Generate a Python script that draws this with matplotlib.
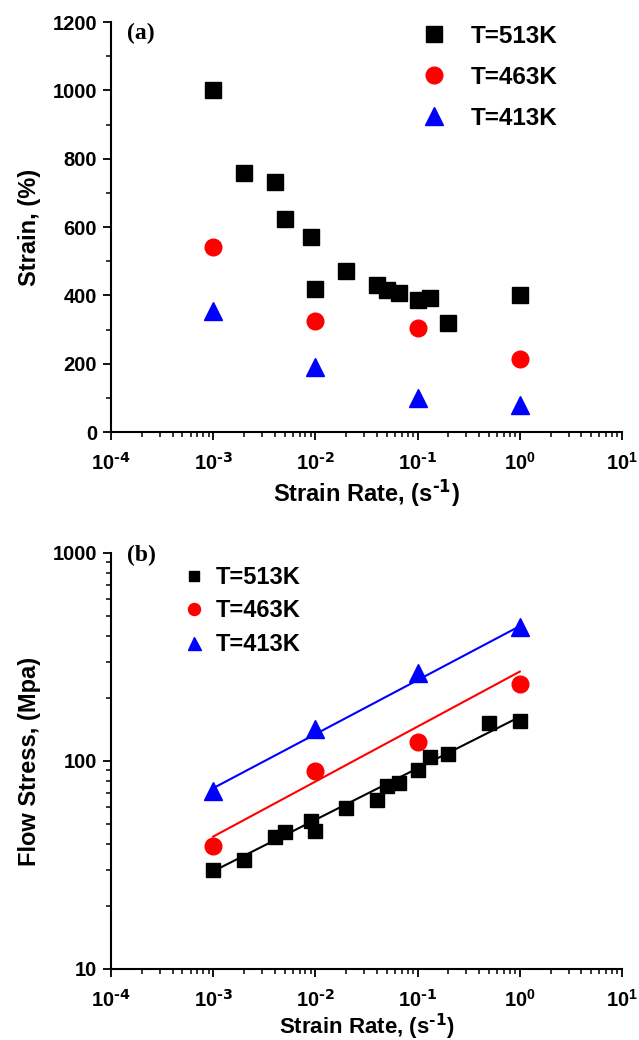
import numpy as np
import matplotlib
matplotlib.use("Agg")
import matplotlib.pyplot as plt
from matplotlib.ticker import MultipleLocator, LogLocator, NullFormatter

plt.rcParams['font.family'] = ['Liberation Sans', 'DejaVu Sans']
plt.rcParams['font.weight'] = 'bold'
plt.rcParams['mathtext.default'] = 'regular'
plt.rcParams['axes.unicode_minus'] = False

# ---- datos panel (a): deformacion vs velocidad ----
rate_513 = [1e-3, 2e-3, 4e-3, 5e-3, 9e-3, 1e-2, 2e-2, 4e-2, 5e-2, 6.6e-2, 1e-1, 1.32e-1, 2e-1, 1.0]
strain_513 = [1000, 757, 733, 624, 571, 418, 472, 431, 416, 407, 385, 392, 318, 400]
rate_463 = [1e-3, 1e-2, 1e-1, 1.0]
strain_463 = [541, 325, 304, 213]
rate_413 = [1e-3, 1e-2, 1e-1, 1.0]
strain_413 = [354, 191, 101, 78]

# ---- datos panel (b): tension de flujo vs velocidad ----
rate_513b = [1e-3, 2e-3, 4e-3, 5e-3, 9e-3, 1e-2, 2e-2, 4e-2, 5e-2, 6.6e-2, 1e-1, 1.32e-1, 2e-1, 5e-1, 1.0]
stress_513 = [30, 33.4, 43.3, 45.7, 51.6, 46.2, 59.2, 65, 75.8, 78.7, 90.5, 105, 108, 153, 156]
stress_463 = [39.2, 89.8, 124, 234]
stress_413 = [72, 143, 265, 440]

# rectas de ajuste (extremos)
fit_rate = [1e-3, 1.0]
fit_513 = [29.5, 163]
fit_463 = [43.3, 269]
fit_413 = [74, 445]

labels = ['T=513K', 'T=463K', 'T=413K']

decades = [1e-4, 1e-3, 1e-2, 1e-1, 1e0, 1e1]
dec_labels = [r'$10^{\text{-4}}$', r'$10^{\text{-3}}$', r'$10^{\text{-2}}$',
              r'$10^{\text{-1}}$', r'$10^{0}$', r'$10^{1}$']

fig = plt.figure(figsize=(6.39, 10.4), dpi=100)
ax1 = fig.add_axes([0.1737, 0.5846, 0.7997, 0.3942])
ax2 = fig.add_axes([0.1737, 0.0683, 0.7997, 0.4000])


def style_axis(ax):
    ax.set_xscale('log')
    ax.set_xlim(1e-4, 1e1)
    ax.spines['top'].set_visible(False)
    ax.spines['right'].set_visible(False)
    for s in ['left', 'bottom']:
        ax.spines[s].set_linewidth(1.5)
    ax.set_xticks(decades)
    ax.set_xticklabels(dec_labels)
    ax.xaxis.set_minor_locator(LogLocator(base=10, subs=np.arange(2, 10)))
    ax.xaxis.set_minor_formatter(NullFormatter())
    ax.tick_params(which='major', direction='out', length=6, width=1.3, labelsize=14.5)
    ax.tick_params(axis='x', which='major', pad=8)
    ax.tick_params(axis='y', which='major', pad=4)
    ax.tick_params(which='minor', direction='out', length=3.5, width=1.1)
    for lab in ax.get_xticklabels() + ax.get_yticklabels():
        lab.set_fontweight('bold')
    ax.set_xlabel(r'Strain Rate, (s$^{\text{-1}}$)', fontsize=17, fontweight='bold', labelpad=3)


# ---- panel (a) ----
ax1.plot(rate_513, strain_513, ls='none', marker='s', ms=11, color='black', label=labels[0])
ax1.plot(rate_463, strain_463, ls='none', marker='o', ms=12, color='red', label=labels[1])
ax1.plot(rate_413, strain_413, ls='none', marker='^', ms=13, color='blue', label=labels[2])
ax1.set_ylim(0, 1200)
ax1.set_yticks([0, 200, 400, 600, 800, 1000, 1200])
ax1.yaxis.set_minor_locator(MultipleLocator(100))
style_axis(ax1)
ax1.set_ylabel('Strain, (%)', fontsize=17, fontweight='bold', labelpad=8)
ax1.text(0.031, 0.973, '(a)', transform=ax1.transAxes, fontsize=17, fontweight='bold',
         family='Liberation Serif', va='center', ha='left')
ax1.legend(loc='upper left', bbox_to_anchor=(0.609, 0.993), frameon=False,
           prop={'size': 17.5, 'weight': 'bold'}, labelspacing=0.74, borderpad=0,
           borderaxespad=0, handlelength=1.0, handletextpad=1.0)

# ---- panel (b) ----
ax2.set_yscale('log')
ax2.plot(fit_rate, fit_513, color='black', lw=1.5)
ax2.plot(fit_rate, fit_463, color='red', lw=1.5)
ax2.plot(fit_rate, fit_413, color='blue', lw=1.5)
ax2.plot(rate_513b, stress_513, ls='none', marker='s', ms=10.5, color='black', label=labels[0])
ax2.plot(rate_463, stress_463, ls='none', marker='o', ms=12, color='red', label=labels[1])
ax2.plot(rate_413, stress_413, ls='none', marker='^', ms=13, color='blue', label=labels[2])
ax2.set_ylim(10, 1000)
ax2.set_yticks([10, 100, 1000])
ax2.set_yticklabels(['10', '100', '1000'])
ax2.yaxis.set_minor_locator(LogLocator(base=10, subs=np.arange(2, 10)))
ax2.yaxis.set_minor_formatter(NullFormatter())
style_axis(ax2)
ax2.xaxis.label.set_fontsize(16)
ax2.xaxis.labelpad = 1
ax2.set_ylabel('Flow Stress, (Mpa)', fontsize=17, fontweight='bold', labelpad=8)
ax2.text(0.031, 0.995, '(b)', transform=ax2.transAxes, fontsize=17, fontweight='bold',
         family='Liberation Serif', va='center', ha='left')
ax2.legend(loc='upper left', bbox_to_anchor=(0.143, 0.969), frameon=False,
           prop={'size': 17, 'weight': 'bold'}, labelspacing=0.45, borderpad=0,
           borderaxespad=0, handlelength=0.8, handletextpad=0.55, markerscale=0.72)

fig.savefig('out.png', dpi=100)
plt.close(fig)
